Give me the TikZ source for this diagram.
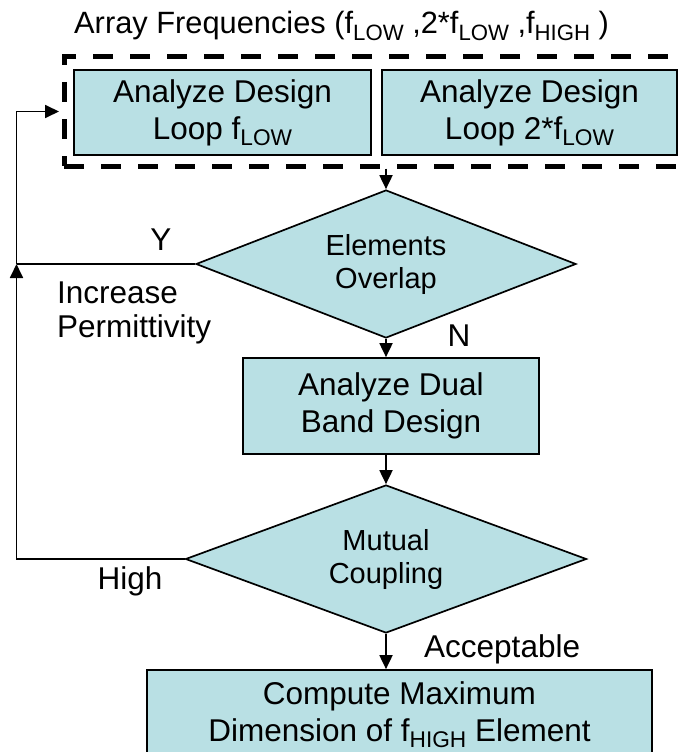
\documentclass[tikz,border=0pt]{standalone}
\usepackage{fontspec}
\setmainfont{Liberation Sans}
\usetikzlibrary{arrows.meta, shapes.geometric}

\definecolor{boxfill}{RGB}{185,224,228}
\newcommand{\fsub}[1]{\raisebox{-0.2em}{\scalebox{0.72}{#1}}}

\tikzset{
  procbox/.style={draw, line width=1.7pt, fill=boxfill, align=center, inner sep=0pt,
    font=\fontsize{31.5}{37}\selectfont},
  decbox/.style={diamond, draw, line width=1.7pt, fill=boxfill, align=center, inner sep=0pt,
    aspect=2.5, font=\fontsize{29}{33}\selectfont},
  flow/.style={line width=1.8pt, -{Triangle[length=14pt, width=13pt]}},
  lbl/.style={font=\fontsize{31.5}{37}\selectfont, inner sep=0pt},
}

\begin{document}
\begin{tikzpicture}[x=1pt, y=-1pt]
\clip (0,0) rectangle (681,752);

\node[font=\fontsize{30.8}{34}\selectfont, inner sep=0pt, anchor=base west] (title) at (74, 34)
  {Array Frequencies (f\fsub{LOW} ,2*f\fsub{LOW} ,f\fsub{HIGH} )};

%% the two design loops
\node[draw, line width=5pt, dash pattern=on 20pt off 17pt, minimum width=636pt,
  minimum height=109pt, inner sep=0pt] (group) at (382, 111.5) {};
\node[procbox, minimum width=297pt, minimum height=85pt] (loopa) at (222.5, 112.5)
  {Analyze Design\\Loop f\fsub{LOW}};
\node[procbox, minimum width=295pt, minimum height=85pt] (loopb) at (529.5, 112.5)
  {Analyze Design\\Loop 2*f\fsub{LOW}};

\node[decbox, minimum width=380pt, minimum height=148pt] (overlap) at (386, 264) {Elements\\Overlap};
\node[procbox, minimum width=296pt, minimum height=96pt] (dual) at (391, 406) {Analyze Dual\\Band Design};
\node[decbox, minimum width=401pt, minimum height=148pt] (mutual) at (386, 559) {Mutual\\Coupling};
\node[procbox, minimum width=505pt, minimum height=90pt] (compute) at (399.5, 715)
  {Compute Maximum\\Dimension of f\fsub{HIGH} Element};

%% branch labels
\node[lbl, anchor=base] (yes) at (161, 250) {Y};
\node[lbl, anchor=base] (no) at (459, 346) {N};
\node[lbl, anchor=west, align=left, font=\fontsize{31.5}{34}\selectfont] (incr) at (57, 313)
  {Increase\\Permittivity};
\node[lbl, anchor=base] (high) at (130, 589) {High};
\node[lbl, anchor=base west] (ok) at (424, 657) {Acceptable};

%% main flow
\draw[flow] (overlap.north |- group.south) -- (overlap.north);
\draw[flow] (overlap.south) -- (overlap.south |- dual.north);
\draw[flow] (mutual.north |- dual.south) -- (mutual.north);
\draw[flow] (mutual.south) -- (mutual.south |- compute.north);

%% loop back
\coordinate (join) at (16.5, 264);
\draw[flow] (mutual.west) -| (join);
\draw[line width=1.8pt] (overlap.west) -- (join);
\draw[flow, shorten >=2.5pt] (join) |- (group.west);

\end{tikzpicture}
\end{document}
